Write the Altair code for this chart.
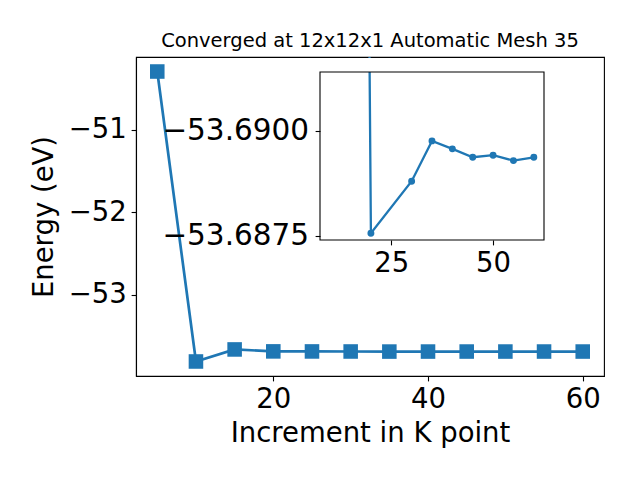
import altair as alt
import pandas as pd

BLUE = "#1f77b4"
FONT = "DejaVu Sans"

# main series
k_main = [5, 10, 15, 20, 25, 30, 35, 40, 45, 50, 55, 60]
E_main = [-50.294, -53.81, -53.664, -53.68756, -53.6882, -53.6888, -53.68976,
          -53.68957, -53.68937, -53.68942, -53.68929, -53.68937]

# inset series
k_in = [10, 20, 30, 35, 40, 45, 50, 55, 60]
E_in = [-53.81, -53.68756, -53.6888, -53.68976, -53.68957, -53.68937,
        -53.68942, -53.68929, -53.68937]

main_ticks_x = [20, 40, 60]
main_ticks_y = [-51, -52, -53]
inset_ticks_x = [25, 50]
inset_ticks_y = [-53.6900, -53.6875]

main_df = pd.DataFrame({"k": k_main, "E": E_main})
inset_df = pd.DataFrame({"k": k_in, "E": E_in})
one = pd.DataFrame({"a": [0]})

W, H = 468, 319
xs_main = alt.Scale(domain=[2.25, 62.75], nice=False, zero=False)
ys_main = alt.Scale(domain=[-53.986, -50.118], nice=False, zero=False)

ax_main_x = alt.Axis(values=main_ticks_x, title="Increment in K point", titlePadding=6)
ax_main_y = alt.Axis(values=main_ticks_y, format="d", title="Energy (eV)", titlePadding=10)

mx = alt.X("k:Q", scale=xs_main, axis=ax_main_x)
my = alt.Y("E:Q", scale=ys_main, axis=ax_main_y)

main_line = alt.Chart(main_df).mark_line(color=BLUE, strokeWidth=2.7).encode(x=mx, y=my)
main_pts = alt.Chart(main_df).mark_square(size=212, color=BLUE, opacity=1).encode(x=mx, y=my)
main = alt.layer(main_line, main_pts)

# inset geometry (pixel ranges inside the main plot area)
X0, X1, Y0, Y1 = 184, 408, 15, 183
xd = [7.5, 62.5]
yd = [-53.6914, -53.6874]
xs_in = alt.Scale(domain=xd, range=[X0, X1], nice=False, zero=False)
ys_in = alt.Scale(domain=yd, range=[Y0, Y1], nice=False, zero=False)
ax_in_x = alt.Axis(values=inset_ticks_x, orient="bottom", offset=-(H - Y1), title=None,
                   zindex=1, domain=False)
ax_in_y = alt.Axis(values=inset_ticks_y, format=".4f", orient="left", offset=-X0, title=None,
                   zindex=1, domain=False, labelFontSize=29.5, labelPadding=6.5)

frame_fill = alt.Chart(one).mark_rect(fill="white").encode(
    x=alt.X(datum=xd[0], scale=xs_in, axis=ax_in_x),
    x2=alt.X2(datum=xd[1]),
    y=alt.Y(datum=yd[0], scale=ys_in, axis=ax_in_y),
    y2=alt.Y2(datum=yd[1]),
)
ix = alt.X("k:Q", scale=xs_in, axis=ax_in_x)
iy = alt.Y("E:Q", scale=ys_in, axis=ax_in_y)
inset_line = alt.Chart(inset_df).mark_line(color=BLUE, strokeWidth=2.3, clip=True).encode(x=ix, y=iy)
inset_pts = alt.Chart(inset_df).mark_circle(size=48, color=BLUE, opacity=1, clip=True).encode(x=ix, y=iy)
cover = alt.Chart(one).mark_rect(fill="white").encode(
    x=alt.X(datum=xd[0], scale=xs_in, axis=ax_in_x),
    x2=alt.X2(datum=xd[1]),
    y=alt.Y(datum=yd[0], scale=ys_in, axis=ax_in_y),
    y2=alt.value(1),
)
frame_stroke = alt.Chart(one).mark_rect(fill=None, stroke="black", strokeWidth=1.1).encode(
    x=alt.X(datum=xd[0], scale=xs_in, axis=ax_in_x),
    x2=alt.X2(datum=xd[1]),
    y=alt.Y(datum=yd[0], scale=ys_in, axis=ax_in_y),
    y2=alt.Y2(datum=yd[1]),
)
inset = alt.layer(frame_fill, inset_line, inset_pts, cover, frame_stroke)

chart = alt.layer(main, inset).resolve_scale(x="independent", y="independent").properties(
    width=W, height=H,
    title=alt.Title("Converged at 12x12x1 Automatic Mesh 35", fontSize=19.5, font=FONT,
                    fontWeight="normal", color="black", offset=6, anchor="middle"),
    autosize="none",
    padding={"left": 128, "top": 49, "right": 28, "bottom": 96},
).configure_view(stroke="black", strokeWidth=1.1).configure_axis(
    grid=False, labelFont=FONT, labelFontSize=27.5, labelColor="black",
    titleFont=FONT, titleFontSize=27.5, titleFontWeight="normal", titleColor="black",
    tickColor="black", domainColor="black", tickSize=4.9, tickWidth=1.1, domainWidth=1.1,
    labelPadding=4.9,
)

chart.save("out.html", embed_options={"renderer": "svg", "actions": False})
